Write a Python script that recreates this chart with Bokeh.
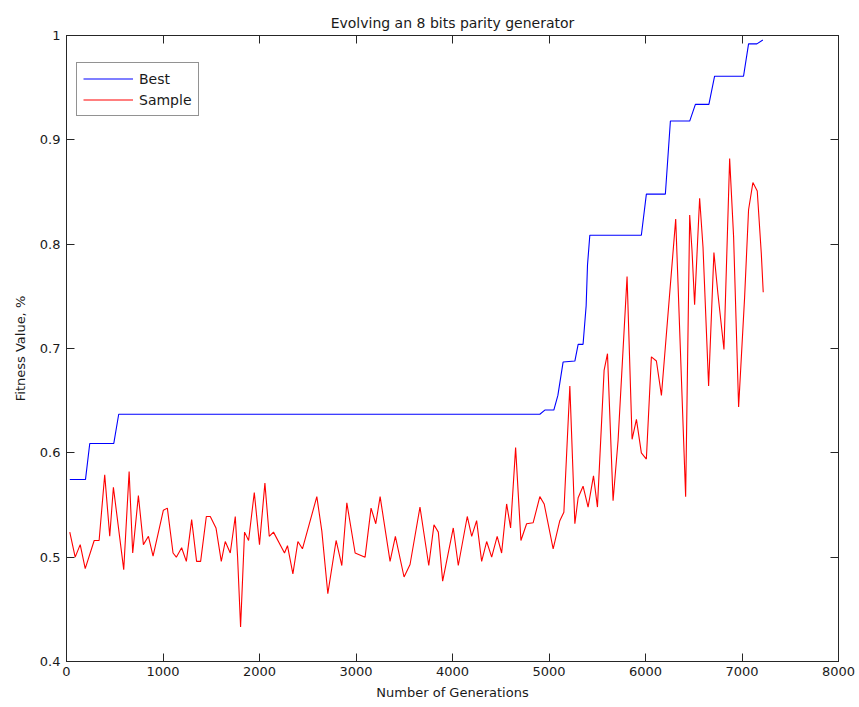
from bokeh.plotting import figure
from bokeh.models import FixedTicker, LinearAxis, Range1d, Legend, LegendItem
from bokeh.embed import file_html
from bokeh.resources import INLINE

title_text = "Evolving an 8 bits parity generator"
x_label = "Number of Generations"
y_label = "Fitness Value, %"

x_ticks = [0, 1000, 2000, 3000, 4000, 5000, 6000, 7000, 8000]
y_ticks = [0.4, 0.5, 0.6, 0.7, 0.8, 0.9, 1.0]
y_tick_labels = ["0.4", "0.5", "0.6", "0.7", "0.8", "0.9", "1"]

best_gen = [34, 197, 241, 490, 541, 4905, 4957, 5050, 5092, 5146, 5268, 5302, 5353,
            5385, 5399, 5423, 5957, 6009, 6206, 6258, 6458, 6517, 6657, 6716, 7016,
            7068, 7154, 7216]
best_fit = [0.5745, 0.5745, 0.609, 0.609, 0.637, 0.637, 0.641, 0.641, 0.655, 0.687,
            0.688, 0.704, 0.704, 0.741, 0.780, 0.8085, 0.8085, 0.848, 0.848, 0.918,
            0.918, 0.934, 0.934, 0.961, 0.961, 0.992, 0.992, 0.9957]

sample_gen = [34, 90, 142, 194, 287, 338, 396, 448, 486, 593, 649, 686, 745, 797, 849,
              897, 1004, 1045, 1104, 1138, 1193, 1242, 1297, 1348, 1390, 1449, 1490,
              1549, 1604, 1645, 1697, 1749, 1773, 1804, 1845, 1887, 1946, 2000, 2056,
              2101, 2145, 2259, 2290, 2346, 2398, 2445, 2594, 2646, 2708, 2794, 2853,
              2905, 2991, 3094, 3156, 3205, 3250, 3353, 3408, 3498, 3560, 3663, 3754,
              3808, 3853, 3898, 4008, 4060, 4153, 4199, 4250, 4302, 4354, 4406, 4463,
              4509, 4561, 4602, 4654, 4709, 4768, 4836, 4905, 4950, 5043, 5112, 5154,
              5216, 5268, 5302, 5353, 5405, 5461, 5502, 5571, 5606, 5664, 5716, 5809,
              5861, 5906, 5957, 6009, 6061, 6113, 6165, 6313, 6416, 6458, 6482, 6509,
              6561, 6596, 6654, 6709, 6751, 6813, 6872, 6913, 6965, 7027, 7068, 7113,
              7158, 7200, 7220]
sample_fit = [0.524, 0.500, 0.512, 0.489, 0.516, 0.516, 0.579, 0.520, 0.567, 0.488,
              0.582, 0.504, 0.559, 0.512, 0.520, 0.501, 0.545, 0.547, 0.504, 0.500,
              0.509, 0.496, 0.536, 0.496, 0.496, 0.539, 0.539, 0.528, 0.496, 0.515,
              0.504, 0.539, 0.500, 0.433, 0.524, 0.516, 0.562, 0.512, 0.571, 0.520,
              0.524, 0.504, 0.511, 0.484, 0.515, 0.508, 0.558, 0.525, 0.465, 0.516,
              0.492, 0.552, 0.504, 0.500, 0.547, 0.532, 0.558, 0.496, 0.520, 0.481,
              0.493, 0.548, 0.492, 0.531, 0.524, 0.477, 0.528, 0.492, 0.539, 0.520,
              0.535, 0.496, 0.515, 0.500, 0.520, 0.504, 0.551, 0.528, 0.605, 0.516,
              0.532, 0.533, 0.558, 0.551, 0.508, 0.535, 0.543, 0.664, 0.532, 0.557,
              0.568, 0.548, 0.578, 0.548, 0.679, 0.695, 0.554, 0.612, 0.769, 0.613,
              0.632, 0.600, 0.594, 0.692, 0.688, 0.655, 0.824, 0.558, 0.828, 0.794,
              0.742, 0.844, 0.797, 0.664, 0.792, 0.752, 0.699, 0.882, 0.807, 0.644,
              0.749, 0.833, 0.859, 0.851, 0.791, 0.754]

FONT = "DejaVu Sans"
AXC = "#262626"
TXT = "#1a1a1a"

p = figure(width=859, height=707, output_backend="svg", toolbar_location=None,
           x_range=Range1d(0, 8000), y_range=Range1d(0.4, 1.0),
           min_border_left=66, min_border_right=21, min_border_top=35,
           min_border_bottom=46, background_fill_color="white",
           border_fill_color="white")
p.title.text = title_text
p.title.align = "center"
p.title.text_font = FONT
p.title.text_font_size = "14px"
p.title.text_font_style = "normal"
p.title.text_color = TXT
p.grid.visible = False
p.outline_line_color = AXC
p.outline_line_width = 1

l1 = p.line(best_gen, best_fit, line_color="#0000ff", line_width=1.1)
l2 = p.line(sample_gen, sample_fit, line_color="#ff0000", line_width=1.1)

def style_axis(ax, labels=True):
    ax.major_tick_in = 8
    ax.major_tick_out = 0
    ax.minor_tick_in = 0
    ax.minor_tick_out = 0
    ax.axis_line_color = AXC
    ax.major_tick_line_color = AXC
    ax.major_label_text_font = FONT
    ax.major_label_text_font_size = "13px"
    ax.major_label_text_color = TXT
    ax.axis_label_text_font = FONT
    ax.axis_label_text_font_size = "13px"
    ax.axis_label_text_font_style = "normal"
    ax.axis_label_text_color = TXT
    if not labels:
        ax.major_label_text_font_size = "0px"
        ax.major_label_text_alpha = 0

xa = p.xaxis[0]
xa.ticker = FixedTicker(ticks=x_ticks)
xa.axis_label = x_label
xa.major_label_standoff = 5
xa.axis_label_standoff = 6
style_axis(xa)

ya = p.yaxis[0]
ya.ticker = FixedTicker(ticks=y_ticks)
ya.major_label_overrides = {t: s for t, s in zip(y_ticks, y_tick_labels)}
ya.axis_label = y_label
ya.major_label_standoff = 6
ya.axis_label_standoff = 9
style_axis(ya)

top = LinearAxis(ticker=FixedTicker(ticks=x_ticks))
style_axis(top, labels=False)
p.add_layout(top, "above")
right = LinearAxis(ticker=FixedTicker(ticks=y_ticks))
style_axis(right, labels=False)
p.add_layout(right, "right")

legend = Legend(items=[LegendItem(label="Best", renderers=[l1]),
                       LegendItem(label="Sample", renderers=[l2])],
                location=(10, 545))
legend.glyph_width = 50
legend.glyph_height = 19
legend.label_height = 19
legend.label_standoff = 6
legend.padding = 6
legend.spacing = 2
legend.margin = 0
legend.label_text_font = FONT
legend.label_text_font_size = "14px"
legend.label_text_color = TXT
legend.border_line_color = AXC
legend.border_line_width = 1
legend.background_fill_alpha = 1
p.add_layout(legend, "center")

open("out.html", "w").write(file_html(p, INLINE))
